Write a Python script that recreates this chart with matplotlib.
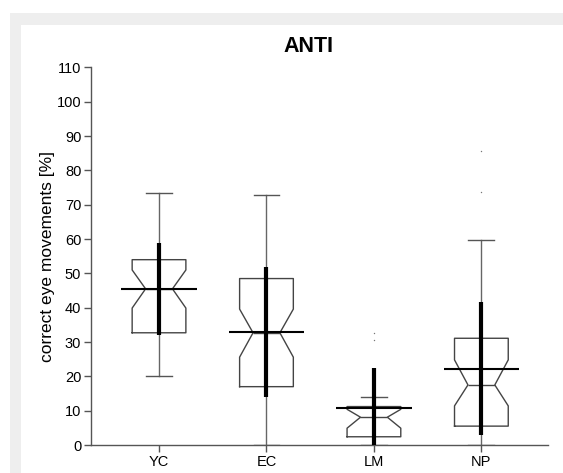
import matplotlib
matplotlib.use("Agg")
import matplotlib.pyplot as plt
from matplotlib.patches import Rectangle

plt.rcParams['font.family'] = ['Liberation Sans', 'DejaVu Sans']

categories = ["YC", "EC", "LM", "NP"]
medians = [45.5, 32.7, 8.1, 17.5]
q1 = [32.7, 17.0, 2.4, 5.5]
q3 = [54.0, 48.5, 11.2, 31.1]
whislo = [20.2, 0.0, 0.0, 0.0]
whishi = [73.4, 72.8, 14.1, 59.8]
cilo = [39.9, 25.6, 4.9, 11.4]
cihi = [51.0, 39.6, 10.4, 24.8]
fliers = [[], [], [30.6, 32.7], [73.6, 85.8]]
means = [45.5, 33.0, 10.8, 22.2]
sds = [13.5, 19.0, 11.6, 19.4]
yticks = list(range(0, 111, 10))

W, H = 563, 473
fig = plt.figure(figsize=(W / 100, H / 100), dpi=100)
fig.patches.append(Rectangle((10 / W, 0), 1, (H - 13) / H, transform=fig.transFigure,
                             facecolor="#eeeeee", edgecolor="none", zorder=-10))
fig.patches.append(Rectangle((21 / W, 0), 1, (H - 25) / H, transform=fig.transFigure,
                             facecolor="white", edgecolor="none", zorder=-9))

ax = fig.add_axes([91 / W, (H - 445) / H, (548 - 91) / W, (445 - 67.5) / H])
ax.patch.set_alpha(0)

positions = list(range(1, len(categories) + 1))
stats = []
for i in range(len(categories)):
    stats.append(dict(med=medians[i], q1=q1[i], q3=q3[i], whislo=whislo[i], whishi=whishi[i],
                      cilo=cilo[i], cihi=cihi[i], fliers=fliers[i], label=categories[i]))

boxcol = "#444444"
ax.bxp(stats, positions=positions, widths=0.5, shownotches=True, showfliers=True,
       capwidths=0.24,
       boxprops=dict(color=boxcol, linewidth=1.0),
       medianprops=dict(color=boxcol, linewidth=1.0),
       whiskerprops=dict(color="#666666", linewidth=1.0),
       capprops=dict(color="#555555", linewidth=1.0),
       flierprops=dict(marker='.', markersize=2, markerfacecolor="#777777",
                       markeredgecolor="none", linestyle="none"))

for i, p in enumerate(positions):
    ax.vlines(p, means[i] - sds[i], means[i] + sds[i], color="black", linewidth=3.0, zorder=5)
    ax.hlines(means[i], p - 0.35, p + 0.35, color="black", linewidth=1.5, zorder=6)

ax.set_xlim(0.367, 4.62)
ax.set_ylim(0, 110)
ax.set_yticks(yticks)
ax.set_xticks(positions)
ax.set_xticklabels(categories)
for s in ["top", "right"]:
    ax.spines[s].set_visible(False)
for s in ["left", "bottom"]:
    ax.spines[s].set_color("#555555")
    ax.spines[s].set_linewidth(1.0)
ax.tick_params(axis="both", direction="out", length=5, width=1.0, color="#555555",
               labelsize=10.5, pad=2)
ax.set_ylabel("correct eye movements [%]", fontsize=12.5, labelpad=1)

fig.text(308 / W, 1 - 47 / H, "ANTI", fontsize=15.5, fontweight="bold", ha="center", va="center")

fig.savefig("out.png", dpi=100)
